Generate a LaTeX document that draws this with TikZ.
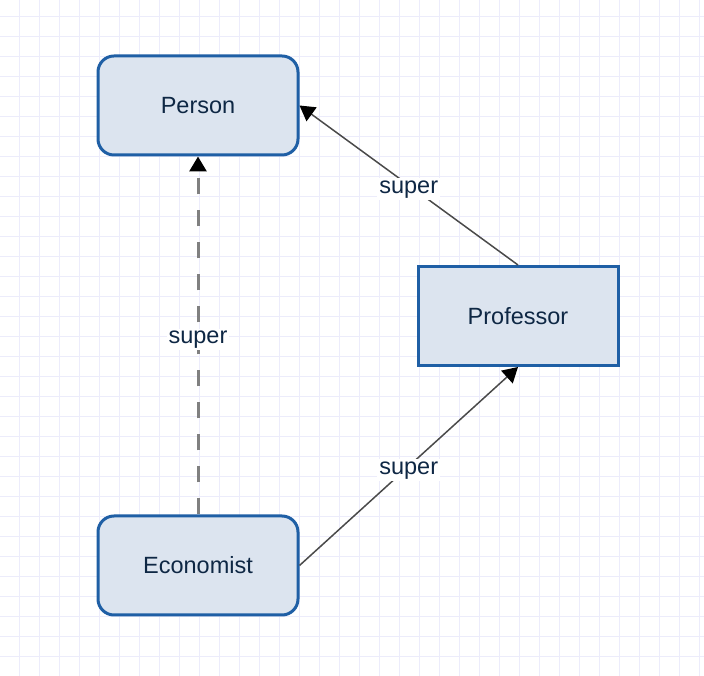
\documentclass[tikz,border=0pt]{standalone}
\usepackage{fontspec}
\setmainfont{Liberation Sans}
\usetikzlibrary{arrows.meta}
\definecolor{gridcol}{HTML}{ECECFB}
\definecolor{boxfill}{HTML}{DCE4EF}
\definecolor{boxline}{HTML}{1F5FA5}
\definecolor{boxtext}{HTML}{0E2744}
\definecolor{dashcol}{HTML}{808080}
\definecolor{linkcol}{HTML}{4A4A4A}
\tikzset{
  classbox/.style={draw=boxline, fill=boxfill, line width=3pt, text=boxtext,
    minimum width=200pt, minimum height=99pt, inner sep=0pt},
  superlabel/.style={fill=white, text=boxtext, inner sep=2pt, midway, yshift=-4pt},
  superlink/.style={draw=linkcol, line width=1.5pt,
    -{Triangle[length=15pt,width=17pt,color=black]}},
}
\begin{document}
\begin{tikzpicture}[x=1pt, y=1pt, font=\fontsize{23.5}{28}\selectfont]
      \useasboundingbox (0,0) rectangle (704,676);
      \fill[white] (0,0) rectangle (704,676);
      \draw[gridcol, line width=1pt, step=20pt, shift={(-1pt,-1pt)}] (0,0) grid (706,678);
      \draw
        (198,570.5) node[classbox, rounded corners=16pt] (person){Person}
        (518,360) node[classbox] (professor){Professor}
        (198,110.5) node[classbox, rounded corners=16pt] (economist){Economist};
      \begin{scope}
        \draw[superlink, draw=dashcol, line width=3pt, dash pattern=on 16pt off 16pt]
          (economist.north) to node[superlabel]{super} (person.south);
        \draw[superlink] (professor.north) to node[superlabel]{super} (person.east);
        \draw[superlink] (economist.east) to node[superlabel]{super} (professor.south);
      \end{scope}
    \end{tikzpicture}
\end{document}
